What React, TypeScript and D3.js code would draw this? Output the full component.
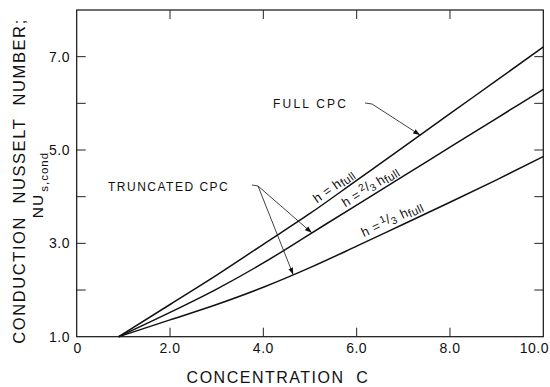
import React from "react";
import * as d3 from "d3";

// Concentration C (shared x samples for all curves)
const concentration = [0.9, 2, 3, 4, 5, 6, 7, 8, 9, 10];
// Conduction Nusselt number for each CPC height
const nuFull = [1.0, 1.69, 2.32, 2.98, 3.64, 4.35, 5.06, 5.78, 6.49, 7.21];
const nuTwoThirds = [1.0, 1.52, 2.02, 2.58, 3.2, 3.82, 4.44, 5.06, 5.68, 6.3];
const nuOneThird = [1.0, 1.36, 1.69, 2.06, 2.48, 2.94, 3.41, 3.88, 4.36, 4.86];

const xTickValues = [0, 2, 4, 6, 8, 10];
const xTickLabels = ["0", "2.0", "4.0", "6.0", "8.0", "10.0"];
const yTickValues = [1, 2, 3, 4, 5, 6, 7];
const yLabelValues = [1, 3, 5, 7];
const yLabelTexts = ["1.0", "3.0", "5.0", "7.0"];

const W = 550;
const H = 387;
const left = 76.7;
const right = 543.3;
const top = 10;
const bottom = 336.7;

const FONT = "'Liberation Sans', Arial, Helvetica, sans-serif";

export default function App() {
  const x = d3.scaleLinear().domain([0, 10]).range([left, right]);
  const y = d3.scaleLinear().domain([1, 8]).range([bottom, top]);

  const series = [nuFull, nuTwoThirds, nuOneThird].map((vals) =>
    concentration.map((c, i) => [c, vals[i]] as [number, number])
  );

  const line = d3
    .line<[number, number]>()
    .x((d) => x(d[0]))
    .y((d) => y(d[1]))
    .curve(d3.curveMonotoneX);

  const interp = (vals: number[], c: number) => {
    const f = d3.scaleLinear().domain(concentration).range(vals);
    return f(c);
  };

  // place a label along a curve starting at concentration c0, offset above it
  const along = (vals: number[], c0: number, off: number) => {
    const px0 = x(c0);
    const py0 = y(interp(vals, c0));
    const px1 = x(c0 + 0.5);
    const py1 = y(interp(vals, c0 + 0.5));
    const ang = (Math.atan2(py1 - py0, px1 - px0) * 180) / Math.PI;
    return `translate(${px0},${py0}) rotate(${ang}) translate(0,${-off})`;
  };

  const tickLen = 9;

  // annotation arrow targets on the curves
  const fullTip: [number, number] = [x(7.36), y(interp(nuFull, 7.36))];
  const midTip: [number, number] = [x(5.04), y(interp(nuTwoThirds, 5.04))];
  const lowTip: [number, number] = [x(4.64), y(interp(nuOneThird, 4.64))];

  return (
    <svg
      width={W}
      height={H}
      style={{ position: "absolute", left: 0, top: 0, background: "#fff" }}
      fontFamily={FONT}
    >
      <defs>
        <marker
          id="arr"
          viewBox="0 0 10 10"
          refX="10"
          refY="5"
          markerWidth="7"
          markerHeight="7"
          orient="auto"
          markerUnits="userSpaceOnUse"
        >
          <path d="M0,1.5 L10,5 L0,8.5 Z" fill="#111" />
        </marker>
      </defs>

      {/* frame */}
      <rect
        x={left}
        y={top}
        width={right - left}
        height={bottom - top}
        fill="none"
        stroke="#111"
        strokeWidth={1.2}
      />

      {/* x ticks, top and bottom, pointing inward */}
      {xTickValues.slice(1, -1).map((v) => (
        <g key={"xt" + v} stroke="#222" strokeWidth={1}>
          <line x1={x(v)} x2={x(v)} y1={bottom} y2={bottom - tickLen} />
          <line x1={x(v)} x2={x(v)} y1={top} y2={top + tickLen} />
        </g>
      ))}
      {/* y ticks, left and right, pointing inward */}
      {yTickValues.slice(1).map((v) => (
        <g key={"yt" + v} stroke="#222" strokeWidth={1}>
          <line x1={left} x2={left + tickLen} y1={y(v)} y2={y(v)} />
          <line x1={right} x2={right - tickLen} y1={y(v)} y2={y(v)} />
        </g>
      ))}

      {/* x tick labels */}
      {xTickValues.map((v, i) => (
        <text
          key={"xl" + v}
          x={v === 10 ? x(v) - 9 : x(v) + (v === 0 ? 1 : 0)}
          y={353}
          textAnchor="middle"
          fontSize={14}
          letterSpacing={0.5}
          fill="#111"
        >
          {xTickLabels[i]}
        </text>
      ))}

      {/* y tick labels */}
      {yLabelValues.map((v, i) => (
        <text
          key={"yl" + v}
          x={70}
          y={y(v) + 5}
          textAnchor="end"
          fontSize={14}
          letterSpacing={0.5}
          fill="#111"
        >
          {yLabelTexts[i]}
        </text>
      ))}

      {/* axis titles */}
      <text
        x={278}
        y={383}
        textAnchor="middle"
        fontSize={16}
        letterSpacing={1.5}
        fill="#111"
        style={{ whiteSpace: "pre" }}
      >
        {"CONCENTRATION  C"}
      </text>
      <text
        transform="translate(25,181) rotate(-90)"
        textAnchor="middle"
        fontSize={16.5}
        letterSpacing={1.6}
        fill="#111"
        style={{ whiteSpace: "pre" }}
      >
        {"CONDUCTION  NUSSELT  NUMBER;"}
      </text>
      <text
        transform="translate(43,185) rotate(-90)"
        textAnchor="middle"
        fontSize={15.5}
        letterSpacing={1}
        fill="#111"
      >
        NU
        <tspan fontSize={11.5} dy={5} dx={2}>
          s,cond
        </tspan>
      </text>

      {/* curves */}
      {series.map((s, i) => (
        <path
          key={"c" + i}
          d={line(s) || ""}
          fill="none"
          stroke="#111"
          strokeWidth={1.5}
        />
      ))}

      {/* curve labels */}
      <text transform={along(nuFull, 5.2, 4)} fontSize={13} letterSpacing={0.4} fill="#111">
        h = h
        <tspan fontSize={11.5} dy={2}>
          full
        </tspan>
      </text>
      <text transform={along(nuTwoThirds, 5.8, 4)} fontSize={13} letterSpacing={0.4} fill="#111">
        h =
        <tspan fontSize={10} dy={-5} dx={2}>
          2
        </tspan>
        <tspan dy={3}>/</tspan>
        <tspan fontSize={10} dy={3}>
          3
        </tspan>
        <tspan dy={-1} dx={3}>
          h
        </tspan>
        <tspan fontSize={11.5} dy={2}>
          full
        </tspan>
      </text>
      <text transform={along(nuOneThird, 6.2, 5)} fontSize={13} letterSpacing={0.4} fill="#111">
        h =
        <tspan fontSize={10} dy={-5} dx={2}>
          1
        </tspan>
        <tspan dy={3}>/</tspan>
        <tspan fontSize={10} dy={3}>
          3
        </tspan>
        <tspan dy={-1} dx={5}>
          h
        </tspan>
        <tspan fontSize={11.5} dy={2}>
          full
        </tspan>
      </text>

      {/* annotations */}
      <text x={273} y={108} fontSize={12} letterSpacing={2.2} fill="#111">
        FULL CPC
      </text>
      <path
        d={`M365,103 L372,104 L${fullTip[0]},${fullTip[1]}`}
        fill="none"
        stroke="#111"
        strokeWidth={0.8}
        markerEnd="url(#arr)"
      />
      <text x={108} y={191} fontSize={12} letterSpacing={1.5} fill="#111">
        TRUNCATED CPC
      </text>
      <path
        d={`M252,185 L258,186 L${midTip[0]},${midTip[1]}`}
        fill="none"
        stroke="#111"
        strokeWidth={0.8}
        markerEnd="url(#arr)"
      />
      <path
        d={`M258,186 L${lowTip[0]},${lowTip[1]}`}
        fill="none"
        stroke="#111"
        strokeWidth={0.8}
        markerEnd="url(#arr)"
      />
    </svg>
  );
}
